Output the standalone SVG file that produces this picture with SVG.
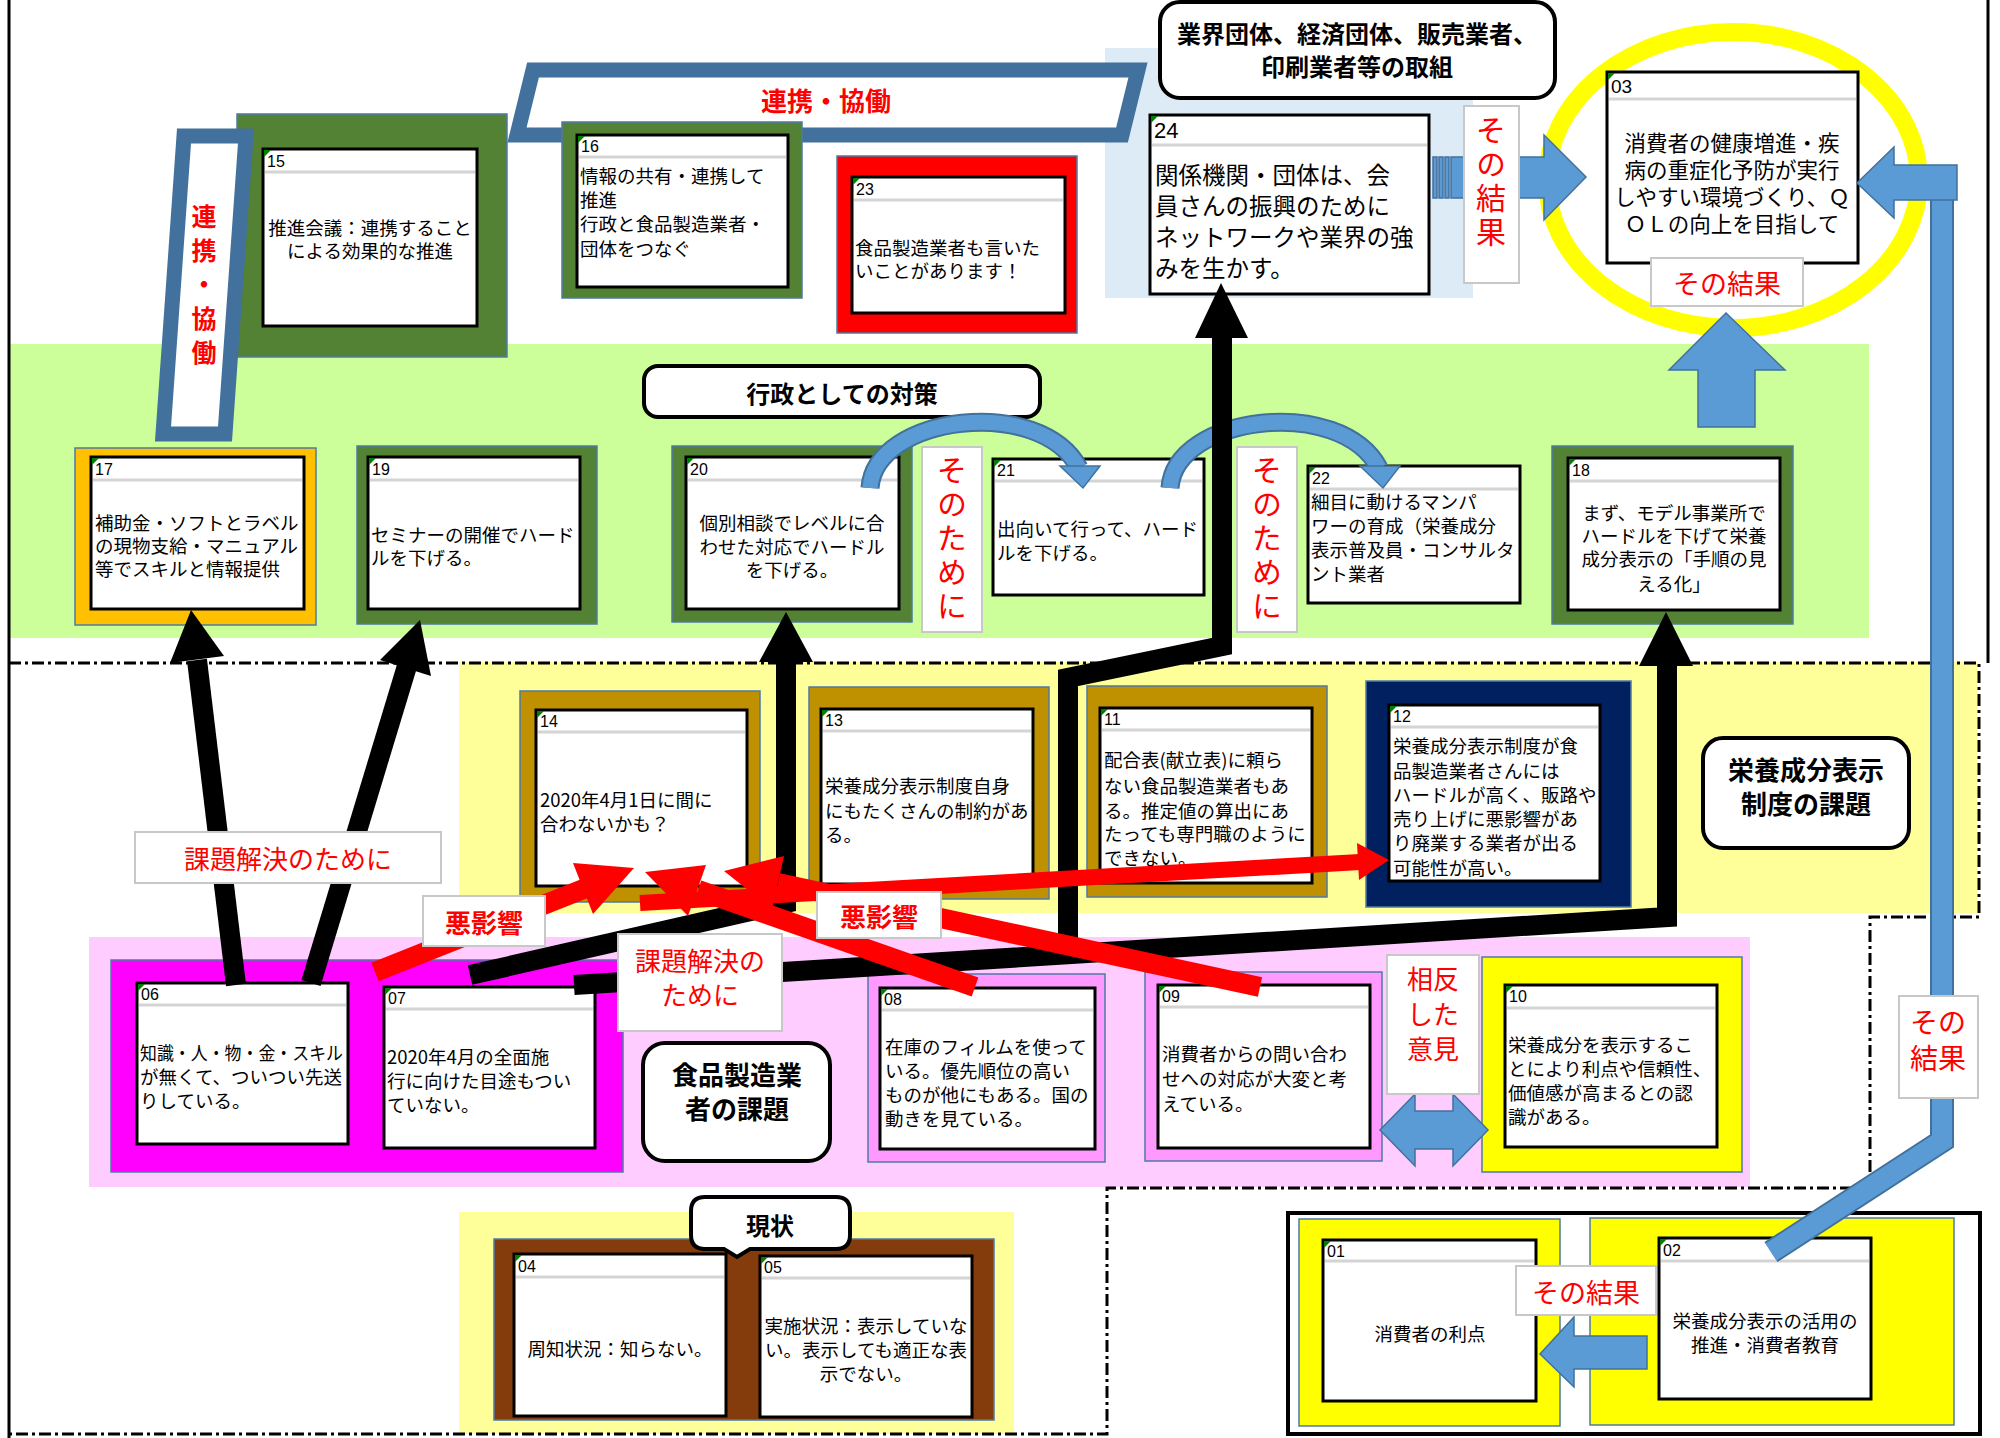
<svg xmlns="http://www.w3.org/2000/svg" width="2000" height="1438" viewBox="0 0 2000 1438">
<style>
.fr{stroke:#4F7AA6;stroke-width:1.5}
.cd{fill:#fff;stroke:#000;stroke-width:3}
.hd{stroke:#D4D4D4;stroke-width:3}
.tg{fill:#008000}
.n{font-family:"Liberation Sans",sans-serif;font-size:16px;dominant-baseline:central;fill:#000}
.t{font-family:"Noto Sans CJK JP","Noto Sans",sans-serif;font-size:18.5px;dominant-baseline:central;fill:#000}
.c{text-anchor:middle}
.b{font-weight:bold}
.r{fill:#FF0000}
.v{writing-mode:vertical-rl;text-orientation:upright}
.lb{fill:#fff;stroke:#C8C8C8;stroke-width:2}
.rr{fill:#fff;stroke:#000;stroke-width:4}
.blk{fill:none;stroke:#000;stroke-width:20}
.red{fill:none;stroke:#FF0000;stroke-width:20}
.bl{fill:#5B9BD5;stroke:#41719C;stroke-width:1.5}
.dd{fill:none;stroke:#000;stroke-width:3;stroke-dasharray:12 4 3 4}
</style>

<g id="backgrounds">
<rect x="10" y="344" width="1859" height="294" fill="#CCFF99"/>
<rect x="1105" y="48" width="368" height="250" fill="#DDEBF7"/>
<rect x="459" y="662" width="1518" height="251" fill="#FFFF99"/>
<rect x="89" y="937" width="1661" height="250" fill="#FFCCFF"/>
<rect x="459" y="1212" width="555" height="222" fill="#FFFF99"/>
<line x1="9" y1="0" x2="9" y2="1438" stroke="#000" stroke-width="3"/>
<line x1="1988" y1="0" x2="1988" y2="663" stroke="#000" stroke-width="3"/>
<path class="dd" d="M9,663 L1979,663 L1979,917 L1870,917 L1870,1188 L1107,1188 L1107,1434 L9,1434"/>
<rect x="1288" y="1213" width="692" height="221" fill="none" stroke="#000" stroke-width="4"/>
</g>

<g id="banner-h">
<polygon points="533,70 1138,70 1122,135 517,135" fill="#fff" stroke="#41719C" stroke-width="15"/>
<text class="t b r c" x="826" y="99" style="font-size:26px">連携・協働</text>
</g>

<g id="n15">
<rect class="fr" x="237" y="114" width="270" height="243" fill="#548235"/>
<rect class="cd" x="263" y="149" width="214" height="177"/>
<line class="hd" x1="265" y1="172" x2="475" y2="172"/>
<polygon class="tg" points="264,150 271,150 264,157"/>
<text class="n" x="267" y="161">15</text>
<text class="t c"><tspan x="370" y="227">推進会議：連携すること</tspan><tspan x="370" y="250">による効果的な推進</tspan></text>
</g>
<g id="n16">
<rect class="fr" x="562" y="122" width="240" height="176" fill="#548235"/>
<rect class="cd" x="577" y="135" width="211" height="152"/>
<line class="hd" x1="579" y1="157" x2="786" y2="157"/>
<polygon class="tg" points="578,136 585,136 578,143"/>
<text class="n" x="581" y="146">16</text>
<text class="t"><tspan x="580" y="175">情報の共有・連携して</tspan><tspan x="580" y="199">推進</tspan><tspan x="580" y="223">行政と食品製造業者・</tspan><tspan x="580" y="248">団体をつなぐ</tspan></text>
</g>
<g id="n23">
<rect class="fr" x="837" y="156" width="240" height="177" fill="#FF0000"/>
<rect class="cd" x="852" y="177" width="213" height="136"/>
<line class="hd" x1="854" y1="200" x2="1063" y2="200"/>
<polygon class="tg" points="853,178 860,178 853,185"/>
<text class="n" x="856" y="189">23</text>
<text class="t"><tspan x="855" y="247">食品製造業者も言いた</tspan><tspan x="855" y="270">いことがあります！</tspan></text>
</g>
<g id="title-industry">
<rect class="rr" x="1160" y="2" width="395" height="96" rx="20"/>
<text class="t b c" style="font-size:24px"><tspan x="1357" y="32">業界団体、経済団体、販売業者、</tspan><tspan x="1357" y="65">印刷業者等の取組</tspan></text>
</g>
<g id="n24">
<rect class="cd" x="1150" y="115" width="279" height="179"/>
<line class="hd" x1="1152" y1="145" x2="1427" y2="145"/>
<polygon class="tg" points="1151,116 1158,116 1151,123"/>
<text class="n" x="1154" y="130" style="font-size:22px">24</text>
<text class="t" style="font-size:23.5px"><tspan x="1155" y="174">関係機関・団体は、会</tspan><tspan x="1155" y="205">員さんの振興のために</tspan><tspan x="1155" y="236">ネットワークや業界の強</tspan><tspan x="1155" y="267">みを生かす。</tspan></text>
</g>
<g id="ring03">
<ellipse cx="1733" cy="180" rx="186" ry="148" fill="none" stroke="#FFFF00" stroke-width="18"/>
</g>
<g id="n03">
<rect class="cd" x="1607" y="72" width="251" height="191"/>
<line class="hd" x1="1609" y1="99" x2="1856" y2="99"/>
<polygon class="tg" points="1608,73 1615,73 1608,80"/>
<text class="n" x="1611" y="86" style="font-size:19px">03</text>
<text class="t c" style="font-size:21.5px"><tspan x="1732" y="141">消費者の健康増進・疾</tspan><tspan x="1732" y="168">病の重症化予防が実行</tspan><tspan x="1732" y="195">しやすい環境づくり、Ｑ</tspan><tspan x="1732" y="222">ＯＬの向上を目指して</tspan></text>
</g>
<g id="title-admin">
<rect class="rr" x="644" y="366" width="396" height="51" rx="14"/>
<text class="t b c" x="842" y="392" style="font-size:24px">行政としての対策</text>
</g>
<g id="n17">
<rect class="fr" x="75" y="448" width="241" height="177" fill="#FFC000"/>
<rect class="cd" x="91" y="457" width="213" height="152"/>
<line class="hd" x1="93" y1="480" x2="302" y2="480"/>
<polygon class="tg" points="92,458 99,458 92,465"/>
<text class="n" x="95" y="469">17</text>
<text class="t"><tspan x="95" y="522">補助金・ソフトとラベル</tspan><tspan x="95" y="545">の現物支給・マニュアル</tspan><tspan x="95" y="568">等でスキルと情報提供</tspan></text>
</g>
<g id="n19">
<rect class="fr" x="357" y="446" width="240" height="178" fill="#548235"/>
<rect class="cd" x="368" y="457" width="212" height="152"/>
<line class="hd" x1="370" y1="480" x2="578" y2="480"/>
<polygon class="tg" points="369,458 376,458 369,465"/>
<text class="n" x="372" y="469">19</text>
<text class="t"><tspan x="371" y="534">セミナーの開催でハード</tspan><tspan x="371" y="557">ルを下げる。</tspan></text>
</g>
<g id="n20">
<rect class="fr" x="672" y="446" width="240" height="176" fill="#548235"/>
<rect class="cd" x="686" y="457" width="213" height="152"/>
<line class="hd" x1="688" y1="480" x2="897" y2="480"/>
<polygon class="tg" points="687,458 694,458 687,465"/>
<text class="n" x="690" y="469">20</text>
<text class="t c"><tspan x="792" y="522">個別相談でレベルに合</tspan><tspan x="792" y="546">わせた対応でハードル</tspan><tspan x="792" y="569">を下げる。</tspan></text>
</g>
<g id="n21">
<rect class="cd" x="993" y="459" width="211" height="136"/>
<line class="hd" x1="995" y1="481" x2="1202" y2="481"/>
<polygon class="tg" points="994,460 1001,460 994,467"/>
<text class="n" x="997" y="470">21</text>
<text class="t"><tspan x="997" y="528">出向いて行って、ハード</tspan><tspan x="997" y="552">ルを下げる。</tspan></text>
</g>
<g id="n22">
<rect class="cd" x="1308" y="466" width="212" height="137"/>
<line class="hd" x1="1310" y1="489" x2="1518" y2="489"/>
<polygon class="tg" points="1309,467 1316,467 1309,474"/>
<text class="n" x="1312" y="478">22</text>
<text class="t"><tspan x="1311" y="501">細目に動けるマンパ</tspan><tspan x="1311" y="525">ワーの育成（栄養成分</tspan><tspan x="1311" y="549">表示普及員・コンサルタ</tspan><tspan x="1311" y="573">ント業者</tspan></text>
</g>
<g id="n18">
<rect class="fr" x="1552" y="446" width="241" height="178" fill="#548235"/>
<rect class="cd" x="1568" y="458" width="212" height="152"/>
<line class="hd" x1="1570" y1="481" x2="1778" y2="481"/>
<polygon class="tg" points="1569,459 1576,459 1569,466"/>
<text class="n" x="1572" y="470">18</text>
<text class="t c"><tspan x="1674" y="512">まず、モデル事業所で</tspan><tspan x="1674" y="535">ハードルを下げて栄養</tspan><tspan x="1674" y="558">成分表示の「手順の見</tspan><tspan x="1674" y="583">える化」</tspan></text>
</g>
<g id="n14">
<rect class="fr" x="520" y="691" width="240" height="211" fill="#BF9000"/>
<rect class="cd" x="536" y="710" width="211" height="176"/>
<line class="hd" x1="538" y1="732" x2="745" y2="732"/>
<polygon class="tg" points="537,711 544,711 537,718"/>
<text class="n" x="540" y="721">14</text>
<text class="t"><tspan x="540" y="799">2020年4月1日に間に</tspan><tspan x="540" y="823">合わないかも？</tspan></text>
</g>
<g id="n13">
<rect class="fr" x="809" y="687" width="240" height="212" fill="#BF9000"/>
<rect class="cd" x="821" y="709" width="212" height="175"/>
<line class="hd" x1="823" y1="731" x2="1031" y2="731"/>
<polygon class="tg" points="822,710 829,710 822,717"/>
<text class="n" x="825" y="720">13</text>
<text class="t"><tspan x="825" y="785">栄養成分表示制度自身</tspan><tspan x="825" y="810">にもたくさんの制約があ</tspan><tspan x="825" y="834">る。</tspan></text>
</g>
<g id="n11">
<rect class="fr" x="1087" y="686" width="240" height="211" fill="#BF9000"/>
<rect class="cd" x="1100" y="708" width="212" height="175"/>
<line class="hd" x1="1102" y1="730" x2="1310" y2="730"/>
<polygon class="tg" points="1101,709 1108,709 1101,716"/>
<text class="n" x="1104" y="719">11</text>
<text class="t"><tspan x="1104" y="759">配合表(献立表)に頼ら</tspan><tspan x="1104" y="785">ない食品製造業者もあ</tspan><tspan x="1104" y="810">る。推定値の算出にあ</tspan><tspan x="1104" y="833">たっても専門職のように</tspan><tspan x="1104" y="857">できない。</tspan></text>
</g>
<g id="n12">
<rect class="fr" x="1366" y="681" width="265" height="226" fill="#002060"/>
<rect class="cd" x="1389" y="705" width="211" height="176"/>
<line class="hd" x1="1391" y1="727" x2="1598" y2="727"/>
<polygon class="tg" points="1390,706 1397,706 1390,713"/>
<text class="n" x="1393" y="716">12</text>
<text class="t"><tspan x="1393" y="745">栄養成分表示制度が食</tspan><tspan x="1393" y="770">品製造業者さんには</tspan><tspan x="1393" y="794">ハードルが高く、販路や</tspan><tspan x="1393" y="818">売り上げに悪影響があ</tspan><tspan x="1393" y="842">り廃業する業者が出る</tspan><tspan x="1393" y="867">可能性が高い。</tspan></text>
</g>
<g id="title-system">
<rect class="rr" x="1703" y="738" width="206" height="110" rx="20"/>
<text class="t b c" style="font-size:26px"><tspan x="1806" y="768">栄養成分表示</tspan><tspan x="1806" y="802">制度の課題</tspan></text>
</g>
<g id="frame0607">
<rect class="fr" x="111" y="960" width="512" height="212" fill="#FF00FF"/>
</g>
<g id="n06">
<rect class="cd" x="137" y="983" width="211" height="161"/>
<line class="hd" x1="139" y1="1005" x2="346" y2="1005"/>
<polygon class="tg" points="138,984 145,984 138,991"/>
<text class="n" x="141" y="994">06</text>
<text class="t"><tspan x="140" y="1052" textLength="203" lengthAdjust="spacingAndGlyphs">知識・人・物・金・スキル</tspan><tspan x="140" y="1076">が無くて、ついつい先送</tspan><tspan x="140" y="1100">りしている。</tspan></text>
</g>
<g id="n07">
<rect class="cd" x="384" y="987" width="211" height="161"/>
<line class="hd" x1="386" y1="1009" x2="593" y2="1009"/>
<polygon class="tg" points="385,988 392,988 385,995"/>
<text class="n" x="388" y="998">07</text>
<text class="t"><tspan x="387" y="1056">2020年4月の全面施</tspan><tspan x="387" y="1080">行に向けた目途もつい</tspan><tspan x="387" y="1104">ていない。</tspan></text>
</g>
<g id="title-maker">
<rect class="rr" x="643" y="1043" width="187" height="118" rx="22"/>
<text class="t b c" style="font-size:26px"><tspan x="737" y="1073">食品製造業</tspan><tspan x="737" y="1107">者の課題</tspan></text>
</g>
<g id="n08">
<rect class="fr" x="868" y="974" width="237" height="188" fill="#FF99FF"/>
<rect class="cd" x="880" y="988" width="215" height="161"/>
<line class="hd" x1="882" y1="1010" x2="1093" y2="1010"/>
<polygon class="tg" points="881,989 888,989 881,996"/>
<text class="n" x="884" y="999">08</text>
<text class="t"><tspan x="885" y="1046">在庫のフィルムを使って</tspan><tspan x="885" y="1070">いる。優先順位の高い</tspan><tspan x="885" y="1094">ものが他にもある。国の</tspan><tspan x="885" y="1118">動きを見ている。</tspan></text>
</g>
<g id="n09">
<rect class="fr" x="1145" y="972" width="237" height="189" fill="#FF99FF"/>
<rect class="cd" x="1158" y="985" width="212" height="163"/>
<line class="hd" x1="1160" y1="1007" x2="1368" y2="1007"/>
<polygon class="tg" points="1159,986 1166,986 1159,993"/>
<text class="n" x="1162" y="996">09</text>
<text class="t"><tspan x="1162" y="1053">消費者からの問い合わ</tspan><tspan x="1162" y="1078">せへの対応が大変と考</tspan><tspan x="1162" y="1103">えている。</tspan></text>
</g>
<g id="n10">
<rect class="fr" x="1482" y="957" width="260" height="215" fill="#FFFF00"/>
<rect class="cd" x="1505" y="985" width="212" height="162"/>
<line class="hd" x1="1507" y1="1008" x2="1715" y2="1008"/>
<polygon class="tg" points="1506,986 1513,986 1506,993"/>
<text class="n" x="1509" y="996">10</text>
<text class="t"><tspan x="1508" y="1044">栄養成分を表示するこ</tspan><tspan x="1508" y="1068">とにより利点や信頼性、</tspan><tspan x="1508" y="1092">価値感が高まるとの認</tspan><tspan x="1508" y="1116">識がある。</tspan></text>
</g>
<g id="n01">
<rect class="fr" x="1299" y="1219" width="261" height="207" fill="#FFFF00"/>
<rect class="cd" x="1323" y="1240" width="213" height="161"/>
<line class="hd" x1="1325" y1="1261" x2="1534" y2="1261"/>
<polygon class="tg" points="1324,1241 1331,1241 1324,1248"/>
<text class="n" x="1327" y="1251">01</text>
<text class="t c" x="1430" y="1333">消費者の利点</text>
</g>
<g id="n02">
<rect class="fr" x="1590" y="1218" width="364" height="207" fill="#FFFF00"/>
<rect class="cd" x="1659" y="1238" width="212" height="161"/>
<line class="hd" x1="1661" y1="1261" x2="1869" y2="1261"/>
<polygon class="tg" points="1660,1239 1667,1239 1660,1246"/>
<text class="n" x="1663" y="1250">02</text>
<text class="t c"><tspan x="1765" y="1320">栄養成分表示の活用の</tspan><tspan x="1765" y="1344">推進・消費者教育</tspan></text>
</g>
<g id="frame0405">
<rect class="fr" x="494" y="1239" width="500" height="181" fill="#843C0C"/>
</g>
<g id="n04">
<rect class="cd" x="514" y="1254" width="212" height="162"/>
<line class="hd" x1="516" y1="1277" x2="724" y2="1277"/>
<polygon class="tg" points="515,1255 522,1255 515,1262"/>
<text class="n" x="518" y="1266">04</text>
<text class="t c" x="620" y="1348">周知状況：知らない。</text>
</g>
<g id="n05">
<rect class="cd" x="760" y="1256" width="212" height="161"/>
<line class="hd" x1="762" y1="1278" x2="970" y2="1278"/>
<polygon class="tg" points="761,1257 768,1257 761,1264"/>
<text class="n" x="764" y="1267">05</text>
<text class="t c"><tspan x="866" y="1325">実施状況：表示していな</tspan><tspan x="866" y="1349">い。表示しても適正な表</tspan><tspan x="866" y="1373">示でない。</tspan></text>
</g>
<g id="title-status">
<path d="M705,1197 H836 Q850,1197 850,1211 V1235 Q850,1249 836,1249 H750 L737,1257 L724,1249 H705 Q691,1249 691,1235 V1211 Q691,1197 705,1197 Z" fill="#fff" stroke="#000" stroke-width="4"/>
<text class="t b c" x="770" y="1224" style="font-size:24px">現状</text>
</g>

<g id="banner-v">
<polygon points="184,136 246,136 225,434 163,434" fill="#fff" stroke="#41719C" stroke-width="15"/>
<text class="t b r v" x="204" y="204" style="font-size:25px;letter-spacing:9px">連携・協働</text>
</g>

<g id="connectors">
<path d="M870,488 C875,415 1040,395 1079,468" fill="none" stroke="#41719C" stroke-width="19"/>
<path d="M870,488 C875,415 1040,395 1079,468" fill="none" stroke="#5B9BD5" stroke-width="15"/>
<polygon class="bl" points="1060,466 1100,466 1083,488"/>
<path d="M1170,488 C1175,415 1340,395 1379,468" fill="none" stroke="#41719C" stroke-width="19"/>
<path d="M1170,488 C1175,415 1340,395 1379,468" fill="none" stroke="#5B9BD5" stroke-width="15"/>
<polygon class="bl" points="1360,466 1400,466 1383,488"/>
<rect class="bl" x="1433" y="157" width="4" height="41"/>
<rect class="bl" x="1439" y="157" width="4" height="41"/>
<rect class="bl" x="1445" y="157" width="4" height="41"/>
<polygon class="bl" points="1451,157 1544,157 1544,135 1586,177 1544,220 1544,198 1451,198"/>
<polygon class="bl" points="1698,427 1755,427 1755,370 1785,370 1726,313 1669,370 1698,370"/>
<polyline points="1771,1252 1942,1141 1942,195" fill="none" stroke="#41719C" stroke-width="24"/>
<polyline points="1771,1252 1942,1141 1942,195" fill="none" stroke="#5B9BD5" stroke-width="20"/>
<polygon class="bl" points="1857,183 1894,147 1894,165 1957,165 1957,200 1894,200 1894,218"/>
<polygon class="bl" points="1380,1130 1415,1094 1415,1111 1453,1111 1453,1094 1488,1130 1453,1166 1453,1149 1415,1149 1415,1166"/>
<polygon class="bl" points="1540,1354 1574,1317 1574,1336 1647,1336 1647,1369 1574,1369 1574,1387"/>
<path class="blk" d="M236,985 L197,660"/>
<polygon points="191,610 224,656 170,663" fill="#000"/>
<path class="blk" d="M311,983 L407,666"/>
<polygon points="420,620 431,676 380,660" fill="#000"/>
<path class="blk" d="M470,975 L786,903 L786,660"/>
<polygon points="786,612 813,662 759,662" fill="#000"/>
<path class="blk" d="M574,985 L1667,917 L1667,662"/>
<polygon points="1666,612 1693,666 1639,666" fill="#000"/>
<path class="blk" d="M1068,960 L1068,678 L1222,646 L1222,335"/>
<polygon points="1221,283 1248,338 1195,338" fill="#000"/>
<path class="red" d="M375,972 L586,888"/>
<polygon points="634,868 593,914 573,863" fill="#FF0000"/>
<path class="red" d="M975,987 L698,890"/>
<polygon points="645,872 706,865 688,916" fill="#FF0000"/>
<path class="red" d="M1260,987 L778,883"/>
<polygon points="724,871 784,856 772,909" fill="#FF0000"/>
<path class="red" d="M640,903 L1360,862" style="stroke-width:16"/>
<polygon points="1389,860 1357,843 1359,880" fill="#FF0000"/>
</g>

<g id="labels">
<rect class="lb" x="1464" y="106" width="55" height="177"/>
<text class="t r v" x="1491" y="115" style="font-size:30px;letter-spacing:4px">その結果</text>
<rect class="lb" x="1651" y="258" width="152" height="48"/>
<text class="t r c" x="1727" y="282" style="font-size:27px">その結果</text>
<rect class="lb" x="922" y="447" width="60" height="185"/>
<text class="t r v" x="952" y="455" style="font-size:30px;letter-spacing:4px">そのために</text>
<rect class="lb" x="1237" y="447" width="60" height="185"/>
<text class="t r v" x="1267" y="455" style="font-size:30px;letter-spacing:4px">そのために</text>
<rect class="lb" x="135" y="832" width="306" height="51"/>
<text class="t r c" x="288" y="857" style="font-size:26px">課題解決のために</text>
<rect class="lb" x="618" y="934" width="164" height="97"/>
<text class="t r c" style="font-size:26px"><tspan x="700" y="959">課題解決の</tspan><tspan x="700" y="993">ために</tspan></text>
<rect class="lb" x="423" y="896" width="122" height="50"/>
<text class="t b r c" x="484" y="921" style="font-size:26px">悪影響</text>
<rect class="lb" x="817" y="892" width="124" height="46"/>
<text class="t b r c" x="879" y="915" style="font-size:26px">悪影響</text>
<rect class="lb" x="1387" y="955" width="92" height="139"/>
<text class="t r c" style="font-size:26px"><tspan x="1433" y="977">相反</tspan><tspan x="1433" y="1012">した</tspan><tspan x="1433" y="1047">意見</tspan></text>
<rect class="lb" x="1899" y="996" width="79" height="102"/>
<text class="t r c" style="font-size:28px"><tspan x="1938" y="1021">その</tspan><tspan x="1938" y="1057">結果</tspan></text>
<rect class="lb" x="1516" y="1266" width="140" height="49"/>
<text class="t r c" x="1586" y="1291" style="font-size:27px">その結果</text>
</g>
</svg>
